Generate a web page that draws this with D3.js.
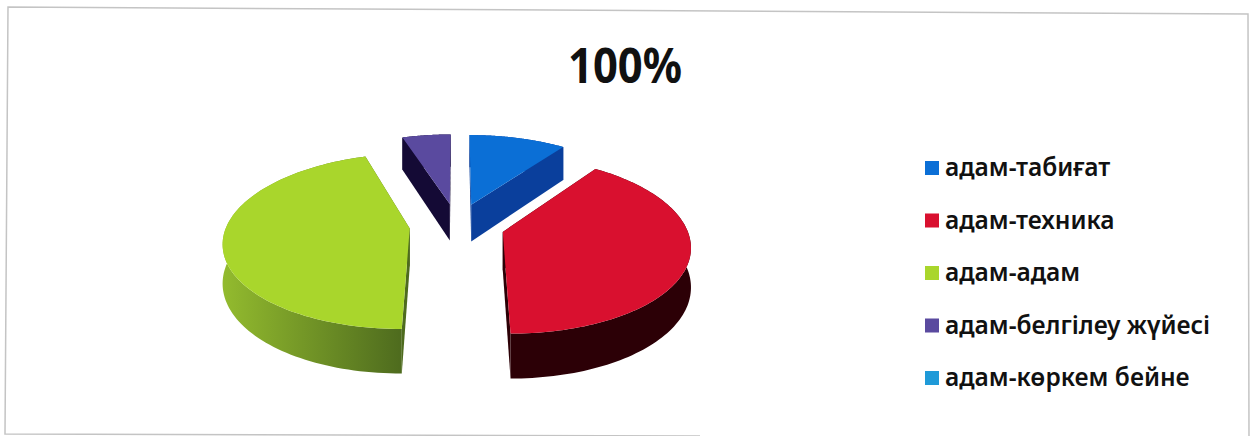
<!DOCTYPE html>
<html>
<head>
<meta charset="utf-8">
<script src="https://cdn.jsdelivr.net/npm/d3@7"></script>
<style>
  html, body { margin: 0; padding: 0; background: #ffffff; overflow: hidden; }
  text { font-family: "Noto Sans", "Open Sans", sans-serif; fill: #111; }
</style>
</head>
<body>
<svg id="chart" width="1251" height="436"></svg>
<script>
const title = '100%';
const categories = ['адам-табиғат', 'адам-техника', 'адам-адам', 'адам-белгілеу жүйесі', 'адам-көркем бейне'];
const values = [10, 40, 45, 5, 0];

const topColors = ['#0b6fd6', '#d9102f', '#a9d62c', '#5a4a9f', '#1f9ad8'];
const wallDark = ['#0a3f9c', '#2c0006', '#4e6b1e', '#140a35', '#0d5f90'];
const wallLight = ['#0d50b8', '#4c0410', '#93bb2e', '#1d1045', '#1578b0'];

const cx = 457, cy = 225;     // pie centre on screen
const radius = 183;           // horizontal radius in pixels
const flatten = 85;           // vertical radius before perspective
const perspective = 0.143;
const depth = 38;
const explode = 0.26;

const svg = d3.select('#chart');
const defs = svg.append('defs');
const line = d3.line();

// frame of the scanned chart, slightly tilted
svg.append('path')
  .attr('d', line([[1249, 436], [1248, 14], [8, 7], [5, 434], [700, 436]]))
  .attr('fill', 'none').attr('stroke', '#c4c4c4').attr('stroke-width', 1.5);

svg.append('text').attr('x', 625).attr('y', 83)
  .attr('text-anchor', 'middle').attr('font-size', 48).attr('font-weight', 700)
  .attr('textLength', 114).attr('lengthAdjust', 'spacingAndGlyphs')
  .text(title);

const pie = d3.pie().sort(null).value(d => d)(values);

// unit disc (X right, Y towards the viewer) to screen, z is the drop to the bottom face
const project = (X, Y, z) => {
  const s = 1 / (1 - perspective * Y);
  return [cx + X * radius * s, cy + (Y * flatten + z * depth) * s];
};

pie.forEach((p, i) => {
  if (p.endAngle - p.startAngle <= 0) return;
  const mid = (p.startAngle + p.endAngle) / 2;
  const ox = explode * Math.sin(mid), oy = -explode * Math.cos(mid);
  const angleAt = d3.scaleLinear().domain([0, 1]).range([p.startAngle, p.endAngle]);
  const steps = d3.range(0, 1.0001, 0.01);
  const rim = steps.map(t => {
    const a = angleAt(t);
    return [ox + Math.sin(a), oy - Math.cos(a)];
  });
  const at = (pt, z) => project(pt[0], pt[1], z);
  const apex = [ox, oy];

  const g = svg.append('g');
  const gradId = 'wall' + i;
  const xs = rim.map(r => at(r, 0)[0]);
  const grad = defs.append('linearGradient').attr('id', gradId)
    .attr('gradientUnits', 'userSpaceOnUse')
    .attr('x1', d3.min(xs)).attr('x2', d3.max(xs)).attr('y1', 0).attr('y2', 0);
  const leftIsLight = i === 2;
  grad.append('stop').attr('offset', 0).attr('stop-color', leftIsLight ? wallLight[i] : wallDark[i]);
  grad.append('stop').attr('offset', 1).attr('stop-color', wallDark[i]);

  // the two cut faces
  [rim[0], rim[rim.length - 1]].forEach(edge => {
    g.append('path')
      .attr('d', line([at(apex, 0), at(edge, 0), at(edge, 1), at(apex, 1)]) + 'Z')
      .attr('fill', wallDark[i]);
  });
  // outer wall
  g.append('path')
    .attr('d', line(rim.map(r => at(r, 0)).concat(rim.slice().reverse().map(r => at(r, 1)))) + 'Z')
    .attr('fill', `url(#${gradId})`);
  // top
  g.append('path')
    .attr('d', line([at(apex, 0)].concat(rim.map(r => at(r, 0)))) + 'Z')
    .attr('fill', topColors[i]);
});

// legend
const legendY = d3.scalePoint().domain(categories).range([168, 378]);
const legend = svg.append('g').selectAll('g').data(categories).join('g')
  .attr('transform', d => `translate(0,${legendY(d)})`);
legend.append('rect').attr('x', 925).attr('y', -7).attr('width', 14).attr('height', 14)
  .attr('fill', (d, i) => topColors[i]);
legend.append('text').attr('x', 945).attr('y', 8)
  .attr('font-size', 24.5).attr('font-weight', 600)
  .text(d => d);
</script>
</body>
</html>
